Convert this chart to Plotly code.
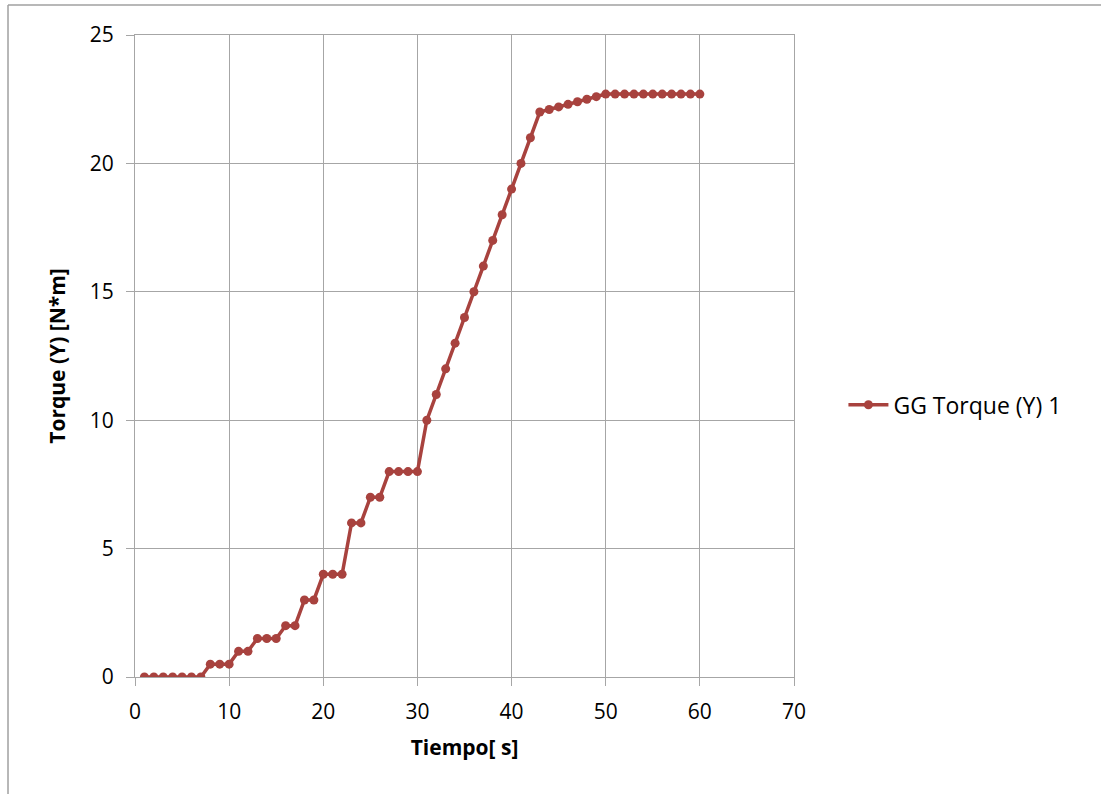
import plotly.graph_objects as go

# Torque measurement over time
tiempo = list(range(1, 61))
torque = [0, 0, 0, 0, 0, 0, 0, 0.5, 0.5, 0.5,
          1, 1, 1.5, 1.5, 1.5, 2, 2, 3, 3, 4,
          4, 4, 6, 6, 7, 7, 8, 8, 8, 8,
          10, 11, 12, 13, 14, 15, 16, 17, 18, 19,
          20, 21, 22, 22.1, 22.2, 22.3, 22.4, 22.5, 22.6, 22.7,
          22.7, 22.7, 22.7, 22.7, 22.7, 22.7, 22.7, 22.7, 22.7, 22.7]
series_name = "GG Torque (Y) 1"

x_ticks = [0, 10, 20, 30, 40, 50, 60, 70]
y_ticks = [0, 5, 10, 15, 20, 25]

line_color = "#A8423E"
grid_color = "#A6A6A6"
font_family = "'Open Sans', Lato, sans-serif"
fsize = 21

fig = go.Figure()
fig.add_trace(go.Scatter(
    x=tiempo, y=torque, name=series_name, mode="lines+markers",
    line=dict(color=line_color, width=3.5),
    marker=dict(color=line_color, size=9),
))

fig.update_layout(
    width=1101, height=794,
    margin=dict(l=135, r=307, t=35, b=117),
    plot_bgcolor="white", paper_bgcolor="white",
    font=dict(family=font_family, size=fsize, color="black"),
    showlegend=True,
    legend=dict(x=1.075, y=0.424, xanchor="left", yanchor="middle",
                font=dict(size=23), bgcolor="rgba(0,0,0,0)", itemwidth=40),
    xaxis=dict(
        range=[0, 70], tickvals=x_ticks, showgrid=True, gridcolor=grid_color, gridwidth=1,
        showline=True, linecolor=grid_color, linewidth=1, mirror=True,
        ticks="outside", ticklen=8, tickcolor=grid_color, zeroline=False,
        tickfont=dict(size=fsize), ticklabelstandoff=8,
        title=dict(text="<b>Tiempo[ s]</b>", font=dict(size=fsize), standoff=16),
    ),
    yaxis=dict(
        range=[0, 25], tickvals=y_ticks, showgrid=True, gridcolor=grid_color, gridwidth=1,
        showline=True, linecolor=grid_color, linewidth=1, mirror=True,
        ticks="outside", ticklen=8, tickcolor=grid_color, zeroline=False,
        tickfont=dict(size=fsize), ticklabelstandoff=8,
        title=dict(text="<b>Torque (Y) [N*m]</b>", font=dict(size=fsize), standoff=18),
    ),
    shapes=[
        dict(type="line", xref="paper", yref="paper", x0=-0.1927, x1=1.47,
             y0=1.0467, y1=1.0467, line=dict(color="#A0A0A0", width=1.5)),
        dict(type="line", xref="paper", yref="paper", x0=-0.1927, x1=-0.1927,
             y0=-0.19, y1=1.0467, line=dict(color="#A0A0A0", width=1.5)),
    ],
)

fig.write_html("out.html")
